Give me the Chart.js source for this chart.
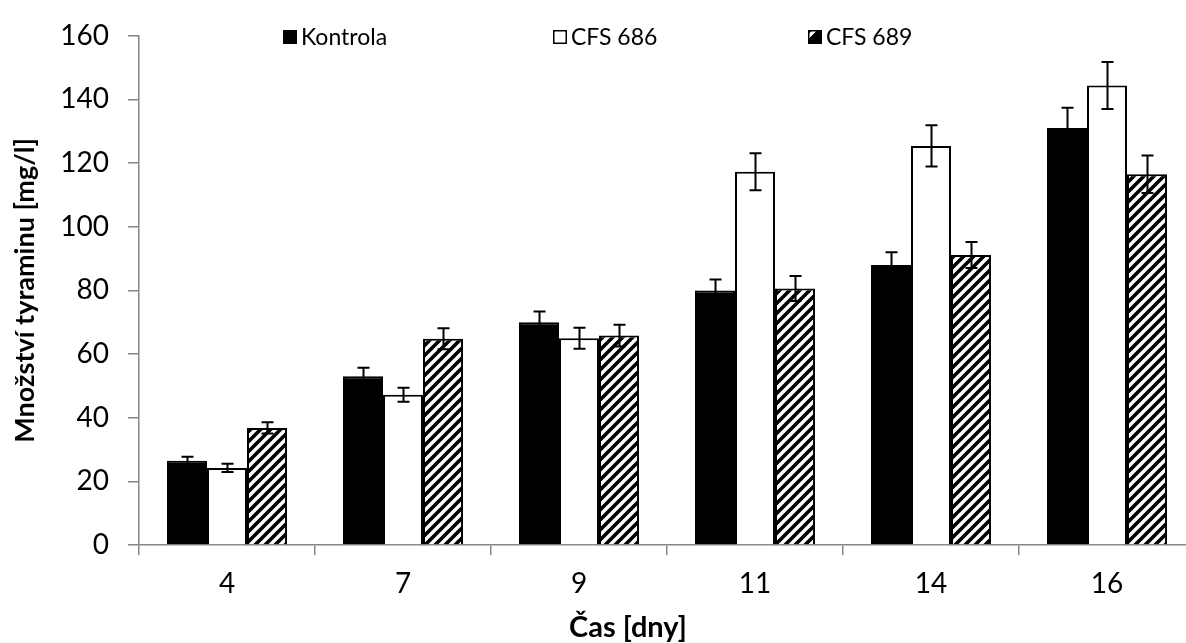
<!DOCTYPE html>
<html>
<head>
<meta charset="utf-8">
<script src="https://cdn.jsdelivr.net/npm/chart.js@4"></script>
<style>
  html, body { margin: 0; padding: 0; background: #fff; overflow: hidden; }
  #wrap { width: 1196px; height: 643px; position: relative; }
</style>
</head>
<body>
<div id="wrap"><canvas id="c"></canvas></div>
<script>
const categories = ['4', '7', '9', '11', '14', '16'];
const seriesNames = ['Kontrola', 'CFS 686', 'CFS 689'];
const kontrola = [26.5, 53.0, 70.0, 80.0, 88.0, 131.0];
const kontrolaErr = [1.2, 2.7, 3.4, 3.4, 4.0, 6.4];
const cfs686 = [24.2, 47.2, 65.0, 117.3, 125.4, 144.4];
const cfs686Err = [1.3, 2.2, 3.3, 5.8, 6.5, 7.4];
const cfs689 = [36.8, 64.8, 65.8, 80.6, 91.1, 116.5];
const cfs689Err = [1.8, 3.3, 3.4, 3.9, 4.1, 5.9];
const yTicks = [0, 20, 40, 60, 80, 100, 120, 140, 160];
const xTitle = 'Čas [dny]';
const yTitle = 'Množství tyraminu [mg/l]';
const legendX = [283, 553, 808];

function hatch() {
  const s = 10;
  const c = document.createElement('canvas');
  c.width = s; c.height = s;
  const g = c.getContext('2d');
  g.fillStyle = '#fff';
  g.fillRect(0, 0, s, s);
  g.strokeStyle = '#000';
  g.lineWidth = 3.6;
  g.beginPath();
  g.moveTo(-2, s + 2); g.lineTo(s + 2, -2);
  g.moveTo(-s / 2 - 2, s / 2 + 2); g.lineTo(s / 2 + 2, -s / 2 - 2);
  g.moveTo(s / 2 - 2, s * 1.5 + 2); g.lineTo(s * 1.5 + 2, s / 2 - 2);
  g.stroke();
  return g.createPattern(c, 'repeat');
}
const hatchPattern = hatch();

const errorBars = {
  id: 'errorBars',
  afterDatasetsDraw(chart) {
    const ctx = chart.ctx;
    const ys = chart.scales.y;
    ctx.save();
    ctx.strokeStyle = '#000';
    ctx.lineWidth = 2;
    chart.data.datasets.forEach((ds, i) => {
      const meta = chart.getDatasetMeta(i);
      meta.data.forEach((bar, j) => {
        const v = ds.data[j], e = ds.errors[j];
        const x = Math.round(bar.x) + 0.5;
        const yt = ys.getPixelForValue(v + e);
        const yb = ys.getPixelForValue(v - e);
        ctx.beginPath();
        ctx.moveTo(x, yt); ctx.lineTo(x, yb);
        ctx.moveTo(x - 6, yt); ctx.lineTo(x + 6, yt);
        ctx.moveTo(x - 6, yb); ctx.lineTo(x + 6, yb);
        ctx.stroke();
      });
    });
    ctx.restore();
  }
};

const customLegend = {
  id: 'customLegend',
  afterDraw(chart) {
    const ctx = chart.ctx;
    ctx.save();
    ctx.font = '23px Lato';
    ctx.textBaseline = 'middle';
    const box = 14, gapText = 4;
    const yc = 37;
    chart.data.datasets.forEach((ds, i) => {
      const x = legendX[i];
      ctx.fillStyle = ds.backgroundColor;
      ctx.fillRect(x, yc - box / 2, box, box);
      if (i === 2) {
        ctx.fillStyle = '#000';
        ctx.beginPath();
        ctx.moveTo(x, yc + box / 2);
        ctx.lineTo(x + box, yc - box / 2);
        ctx.lineTo(x + box, yc + box / 2);
        ctx.closePath();
        ctx.fill();
      }
      ctx.strokeStyle = '#000';
      ctx.lineWidth = 1.5;
      ctx.strokeRect(x + 0.75, yc - box / 2 + 0.75, box - 1.5, box - 1.5);
      ctx.fillStyle = '#000';
      ctx.fillText(ds.label, x + box + gapText, yc + 1);
    });
    // x axis title (centred as in the original figure)
    ctx.font = 'bold 29px Lato';
    ctx.textAlign = 'center';
    ctx.textBaseline = 'middle';
    ctx.fillText(xTitle, 628, 628);
    ctx.restore();
  }
};

const axisGrey = '#868686';

new Chart(document.getElementById('c'), {
  type: 'bar',
  data: {
    labels: categories,
    datasets: [
      { label: seriesNames[0], data: kontrola, errors: kontrolaErr, backgroundColor: '#000', borderColor: '#000', borderWidth: 2 },
      { label: seriesNames[1], data: cfs686, errors: cfs686Err, backgroundColor: '#fff', borderColor: '#000', borderWidth: 2 },
      { label: seriesNames[2], data: cfs689, errors: cfs689Err, backgroundColor: hatchPattern, borderColor: '#000', borderWidth: 2 }
    ]
  },
  options: {
    responsive: true,
    maintainAspectRatio: false,
    animation: false,
    layout: { padding: { top: 25, right: 1, left: 0, bottom: 0 } },
    datasets: { bar: { categoryPercentage: 0.682, barPercentage: 1.0 } },
    plugins: {
      legend: { display: false },
      tooltip: { enabled: false }
    },
    scales: {
      x: {
        grid: { display: true, offset: true, drawOnChartArea: false, drawTicks: true, tickLength: 10, color: axisGrey, lineWidth: 1.5 },
        border: { display: true, color: axisGrey, width: 1.5 },
        ticks: { font: { family: 'Lato', size: 28 }, color: '#000', padding: 12 },
        title: { display: false },
        afterFit(s) { s.height = 98; }
      },
      y: {
        min: 0, max: 160,
        afterBuildTicks(s) { s.ticks = yTicks.map(v => ({ value: v })); },
        grid: { display: true, drawOnChartArea: false, drawTicks: true, tickLength: 11, color: axisGrey, lineWidth: 1.5 },
        border: { display: true, color: axisGrey, width: 1.5 },
        ticks: { font: { family: 'Lato', size: 28 }, color: '#000', padding: 19 },
        title: { display: true, text: yTitle, font: { family: 'Lato', size: 27, weight: 'bold' }, color: '#000', padding: { top: 9, bottom: 0 } },
        afterFit(s) { s.width = 139; }
      }
    }
  },
  plugins: [errorBars, customLegend]
});
</script>
</body>
</html>
